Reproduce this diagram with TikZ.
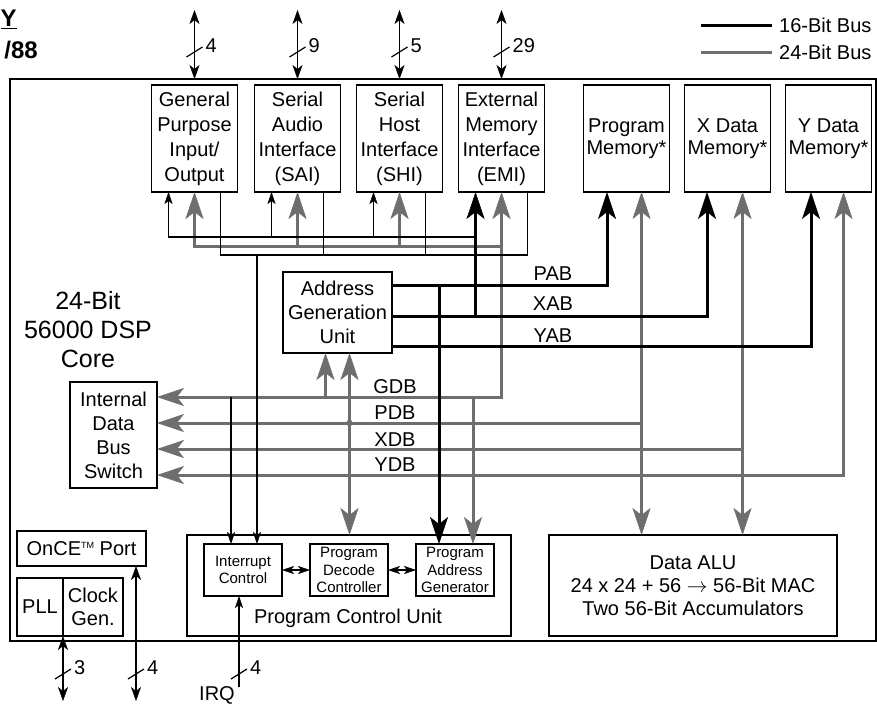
\documentclass[tikz,border=0pt]{standalone}
\usepackage{fontspec}
\setmainfont{Liberation Sans}
\usepackage{tikz}
\usetikzlibrary{arrows.meta,positioning}

\definecolor{busgray}{HTML}{6E6E6E}

\begin{document}
\begin{tikzpicture}[
    x=1pt, y=-1pt,
    BusTip/.tip={Stealth[length=27pt, width=18pt, inset=7pt, line width=0.5pt]},
    CtlTip/.tip={Stealth[length=12pt, width=8pt, inset=3pt, line width=0.4pt]},
    PinTip/.tip={Stealth[length=14pt, width=10pt, inset=4pt, line width=0.4pt]},
    lbl/.style={inner sep=0pt, font=\fontsize{20}{24}\selectfont},
    box/.style={draw, line width=1.2pt, align=center, inner sep=0pt, outer sep=0pt, minimum width=86pt, minimum height=107pt, font=\fontsize{20}{25}\selectfont},
    mem/.style={font=\fontsize{20}{22}\selectfont},
    sub/.style={box, minimum width=78pt, minimum height=52pt, font=\fontsize{15}{17.5}\selectfont},
    bus16/.style={line width=3pt, black},
    bus24/.style={line width=3pt, busgray},
    ctl/.style={line width=1.2pt, black},
    pics/slash/.style={code={
        \draw[ctl] (-8,5) -- (8,-5);
        \node[lbl, anchor=west] (-num) at (11,-6) {#1};
    }}
]
\useasboundingbox (0,0) rectangle (877,704);

% page heading and legend
\node[anchor=base west, inner sep=0pt, font=\fontsize{24}{24}\selectfont\bfseries] (ttly) at (0.5,27) {\underline{Y}};
\node[anchor=base east, inner sep=0pt, font=\fontsize{24}{24}\selectfont\bfseries] (ttlnum) at (38,58) {/88};
\coordinate (leg16) at (701,25);
\coordinate (leg24) at (701,52);
\node[lbl, anchor=west] (leg16txt) at (779,25) {16-Bit Bus};
\node[lbl, anchor=west] (leg24txt) at (779,52) {24-Bit Bus};
\draw[bus16] (leg16) -- ([xshift=-7pt]leg16txt.west);
\draw[bus24] (leg24) -- ([xshift=-7pt]leg24txt.west);

% chip outline
\node[draw, line width=2pt, inner sep=0pt, outer sep=0pt, minimum width=866pt, minimum height=562pt] (chip) at (443,360) {};

% blocks
\node[box] (gpio) at (194.5,138.5) {General\\Purpose\\Input/\\Output};
\node[box, right=17pt of gpio] (sai) {Serial\\Audio\\Interface\\(SAI)};
\node[box, right=16pt of sai] (shi) {Serial\\Host\\Interface\\(SHI)};
\node[box, right=16pt of shi] (emi) {External\\Memory\\Interface\\(EMI)};
\node[box, mem, right=39pt of emi] (pmem) {Program\\Memory*};
\node[box, mem, right=15pt of pmem] (xmem) {X Data\\Memory*};
\node[box, mem, right=15pt of xmem] (ymem) {Y Data\\Memory*};

\node[inner sep=0pt, align=center, font=\fontsize{25}{29}\selectfont] (corelbl) at (88,330) {24-Bit\\56000 DSP\\Core};
\node[box, minimum width=109pt, minimum height=81pt, font=\fontsize{20}{24}\selectfont] (agu) at (337.5,312.5) {Address\\Generation\\Unit};
\node[box, minimum width=87pt, minimum height=106pt, font=\fontsize{20}{24}\selectfont] (idbs) at (113.5,435) {Internal\\Data\\Bus\\Switch};

\node[box, minimum width=324pt, minimum height=101pt] (pcu) at (349,585.5) {};
\node[sub] (intc) at (243,570) {Interrupt\\Control};
\node[sub, right=28pt of intc] (pdc) {Program\\Decode\\Controller};
\node[sub, right=28pt of pdc] (pag) {Program\\Address\\Generator};
\node[lbl] (pcutxt) at (348,618) {Program Control Unit};
\node[box, minimum width=288pt, minimum height=101pt, font=\fontsize{20}{23}\selectfont] (alu) at (693,585.5) {Data ALU\\24 x 24 + 56 $\rightarrow$ 56-Bit MAC\\Two 56-Bit Accumulators};

\node[box, minimum width=129pt, minimum height=35pt] (once) at (81.5,548.5) {OnCE\raisebox{7pt}{\fontsize{9}{9}\selectfont TM} Port};
\node[box, minimum width=46pt, minimum height=58pt] (pll) at (40,607) {PLL};
\node[box, minimum width=60pt, minimum height=58pt, font=\fontsize{20}{23}\selectfont, right=0pt of pll] (clk) {Clock\\Gen.};

% bus names
\node[lbl] (pablbl) at (553,274) {PAB};
\node[lbl] (xablbl) at (553,304) {XAB};
\node[lbl] (yablbl) at (553,336) {YAB};
\node[lbl] (gdblbl) at (395,387) {GDB};
\node[lbl] (pdblbl) at (395,413) {PDB};
\node[lbl] (xdblbl) at (395,440) {XDB};
\node[lbl] (ydblbl) at (395,465) {YDB};

% bus levels and taps
\coordinate (inbus) at (0,237);
\coordinate (datbus) at (0,246);
\coordinate (outbus) at (0,255);
\coordinate (gdb) at (0,397);
\coordinate (pdb) at (0,423);
\coordinate (xdb) at (0,449);
\coordinate (ydb) at (0,475);
\coordinate (pab) at (607,285);
\coordinate (xab) at (707,316);
\coordinate (yab) at (811,346);
\foreach \p in {gpio,sai,shi,emi} {
    \coordinate (\p-in) at ([xshift=-26pt]\p.south);
    \coordinate (\p-out) at ([xshift=26pt]\p.south);
}
\foreach \m in {pmem,xmem,ymem}
    \coordinate (\m-d) at ([xshift=15pt]\m.south);
\coordinate (agu-g) at ([xshift=-12pt]agu.south);
\coordinate (agu-p) at ([xshift=12pt]agu.south);
\coordinate (pag-g) at ([xshift=18pt]pag.north);
\coordinate (pag-p) at ([xshift=-16pt]pag.north);
\coordinate (intc-a) at ([xshift=-12pt]intc.north);
\coordinate (intc-b) at ([xshift=14pt]intc.north);

% 24-bit buses
\draw[bus24, {BusTip}-{BusTip}] (emi.south) -- (emi.south |- gdb) -- (idbs.east |- gdb);
\draw[bus24, -{BusTip}] (emi.south |- datbus) -| (gpio.south);
\foreach \p in {sai,shi}
    \draw[bus24, -{BusTip}] (\p.south |- datbus) -- (\p.south);
\draw[bus24, -{BusTip}] (agu-g |- gdb) -- (agu-g);
\draw[bus24, {BusTip}-{BusTip}] (agu-p) -- (pcu.north -| agu-p);
\fill[busgray] (agu-p |- pdb) circle (3.2pt);
\draw[bus24, -{BusTip}] (pag-g |- gdb) -- (pag-g);
\draw[bus24, {BusTip}-{BusTip}] (pmem-d) -- (alu.north -| pmem-d);
\draw[bus24, -{BusTip}] (pmem-d |- pdb) -- (idbs.east |- pdb);
\draw[bus24, {BusTip}-{BusTip}] (xmem-d) -- (alu.north -| xmem-d);
\draw[bus24, -{BusTip}] (xmem-d |- xdb) -- (idbs.east |- xdb);
\draw[bus24, {BusTip}-{BusTip}] (ymem-d) -- (ymem-d |- ydb) -- (idbs.east |- ydb);

% control lines
\draw[ctl, -{CtlTip}] (emi-in |- inbus) -| (gpio-in);
\foreach \p in {sai,shi}
    \draw[ctl, -{CtlTip}] (\p-in |- inbus) -- (\p-in);
\draw[ctl] (gpio-out) |- (emi-out |- outbus) -- (emi-out);
\foreach \p in {sai,shi}
    \draw[ctl] (\p-out) -- (\p-out |- outbus);
\draw[ctl, -{CtlTip}] (intc-b |- outbus) -- (intc-b);
\draw[ctl, -{CtlTip}] (intc-a |- gdb) -- (intc-a);
\draw[ctl, {CtlTip}-{CtlTip}] (intc) -- (pdc);
\draw[ctl, {CtlTip}-{CtlTip}] (pdc) -- (pag);

% 16-bit address buses
\draw[bus16, -{BusTip}] (agu.east |- pab) -| (pmem.south -| pab);
\draw[bus16, -{BusTip}] (agu.east |- xab) -| (xmem.south -| xab);
\draw[bus16, -{BusTip}] (agu.east |- yab) -| (ymem.south -| yab);
\draw[bus16, -{BusTip}] (pag-p |- pab) -- (pag-p);
\draw[bus16, -{BusTip}] (emi-in |- xab) -- (emi-in);

% pins
\coordinate (pintop) at (0,10);
\coordinate (pinbot) at (0,701);
\coordinate (slashtop) at (0,52);
\coordinate (slashbot) at (0,674);
\foreach \p/\w in {gpio/4, sai/9, shi/5, emi/29} {
    \draw[ctl, {PinTip}-{PinTip}] (\p.north |- chip.north) -- (\p.north |- pintop);
    \pic (w\p) at (\p.north |- slashtop) {slash=\w};
}
\coordinate (oncepin) at ([xshift=-10pt]once.south east);
\draw[ctl, {PinTip}-{PinTip}] (pll.south east) -- (pll.south east |- pinbot);
\pic (wclk) at (pll.south east |- slashbot) {slash=3};
\draw[ctl, {PinTip}-{PinTip}] (oncepin) -- (oncepin |- pinbot);
\pic (wonce) at (oncepin |- slashbot) {slash=4};
\node[lbl] (irq) at (217,695) {IRQ};
\coordinate (irqpin) at (239,687);
\draw[ctl, -{CtlTip}] (irqpin) -- (intc.south -| irqpin);
\pic (wirq) at (irqpin |- slashbot) {slash=4};
\end{tikzpicture}
\end{document}
